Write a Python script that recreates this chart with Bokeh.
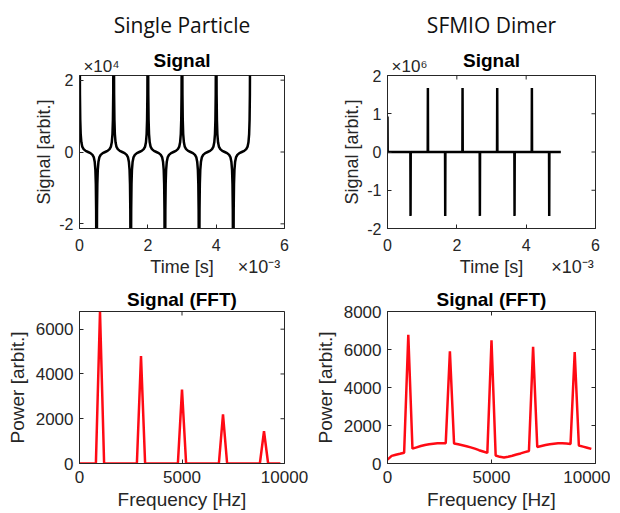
import math
from bokeh.plotting import figure
from bokeh.models import Range1d, LinearAxis, FixedTicker
from bokeh.layouts import row, column
from bokeh.embed import file_html
from bokeh.resources import INLINE

# ---------------- data ----------------
column_titles = ["Single Particle", "SFMIO Dimer"]
panel_titles = ["Signal", "Signal (FFT)"]
time_label = "Time [s]"
signal_label = "Signal [arbit.]"
freq_label = "Frequency [Hz]"
power_label = "Power [arbit.]"
time_multiplier = "×10⁻³"
sp_multiplier = "×10⁴"
dm_multiplier = "×10⁶"

# Single particle time signal (time in ms, signal in units of 1e4)
sp_time_ms = [
    0.000, 0.006, 0.013, 0.022, 0.035, 0.055, 0.080, 0.120, 0.180, 0.250, 0.320, 0.380, 0.420, 0.445, 0.465, 0.478, 0.487, 0.494,
    0.500, 0.506, 0.513, 0.522, 0.535, 0.555, 0.580, 0.620, 0.680, 0.750, 0.820, 0.880, 0.920, 0.945, 0.965, 0.978, 0.987, 0.994,
    1.000, 1.006, 1.013, 1.022, 1.035, 1.055, 1.080, 1.120, 1.180, 1.250, 1.320, 1.380, 1.420, 1.445, 1.465, 1.478, 1.487, 1.494,
    1.500, 1.506, 1.513, 1.522, 1.535, 1.555, 1.580, 1.620, 1.680, 1.750, 1.820, 1.880, 1.920, 1.945, 1.965, 1.978, 1.987, 1.994,
    2.000, 2.006, 2.013, 2.022, 2.035, 2.055, 2.080, 2.120, 2.180, 2.250, 2.320, 2.380, 2.420, 2.445, 2.465, 2.478, 2.487, 2.494,
    2.500, 2.506, 2.513, 2.522, 2.535, 2.555, 2.580, 2.620, 2.680, 2.750, 2.820, 2.880, 2.920, 2.945, 2.965, 2.978, 2.987, 2.994,
    3.000, 3.006, 3.013, 3.022, 3.035, 3.055, 3.080, 3.120, 3.180, 3.250, 3.320, 3.380, 3.420, 3.445, 3.465, 3.478, 3.487, 3.494,
    3.500, 3.506, 3.513, 3.522, 3.535, 3.555, 3.580, 3.620, 3.680, 3.750, 3.820, 3.880, 3.920, 3.945, 3.965, 3.978, 3.987, 3.994,
    4.000, 4.006, 4.013, 4.022, 4.035, 4.055, 4.080, 4.120, 4.180, 4.250, 4.320, 4.380, 4.420, 4.445, 4.465, 4.478, 4.487, 4.494,
    4.500, 4.506, 4.513, 4.522, 4.535, 4.555, 4.580, 4.620, 4.680, 4.750, 4.820, 4.880, 4.920, 4.945, 4.965, 4.978, 4.987, 4.994,
    5.000,
]
sp_signal_1e4 = [
    9.0, 3.5, 1.6, 0.9, 0.5, 0.27, 0.15, 0.08, 0.03, 0.0, -0.03, -0.08, -0.15, -0.27, -0.5, -0.9, -1.6, -3.5,
    -9.0, -3.5, -1.6, -0.9, -0.5, -0.27, -0.15, -0.08, -0.03, 0.0, 0.03, 0.08, 0.15, 0.27, 0.5, 0.9, 1.6, 3.5,
    9.0, 3.5, 1.6, 0.9, 0.5, 0.27, 0.15, 0.08, 0.03, 0.0, -0.03, -0.08, -0.15, -0.27, -0.5, -0.9, -1.6, -3.5,
    -9.0, -3.5, -1.6, -0.9, -0.5, -0.27, -0.15, -0.08, -0.03, 0.0, 0.03, 0.08, 0.15, 0.27, 0.5, 0.9, 1.6, 3.5,
    9.0, 3.5, 1.6, 0.9, 0.5, 0.27, 0.15, 0.08, 0.03, 0.0, -0.03, -0.08, -0.15, -0.27, -0.5, -0.9, -1.6, -3.5,
    -9.0, -3.5, -1.6, -0.9, -0.5, -0.27, -0.15, -0.08, -0.03, 0.0, 0.03, 0.08, 0.15, 0.27, 0.5, 0.9, 1.6, 3.5,
    9.0, 3.5, 1.6, 0.9, 0.5, 0.27, 0.15, 0.08, 0.03, 0.0, -0.03, -0.08, -0.15, -0.27, -0.5, -0.9, -1.6, -3.5,
    -9.0, -3.5, -1.6, -0.9, -0.5, -0.27, -0.15, -0.08, -0.03, 0.0, 0.03, 0.08, 0.15, 0.27, 0.5, 0.9, 1.6, 3.5,
    9.0, 3.5, 1.6, 0.9, 0.5, 0.27, 0.15, 0.08, 0.03, 0.0, -0.03, -0.08, -0.15, -0.27, -0.5, -0.9, -1.6, -3.5,
    -9.0, -3.5, -1.6, -0.9, -0.5, -0.27, -0.15, -0.08, -0.03, 0.0, 0.03, 0.08, 0.15, 0.27, 0.5, 0.9, 1.6, 3.5,
    9.0,
]

# SFMIO dimer time signal (time in ms, signal in units of 1e6)
dm_time_ms = [
    0.0, 0.005,
    0.66, 0.665, 0.67, 1.16, 1.165, 1.17,
    1.66, 1.665, 1.67, 2.16, 2.165, 2.17,
    2.66, 2.665, 2.67, 3.16, 3.165, 3.17,
    3.66, 3.665, 3.67, 4.16, 4.165, 4.17,
    4.66, 4.665, 4.67,
    5.0,
]
dm_signal_1e6 = [
    0.93, 0.0,
    0.0, -1.67, 0.0, 0.0, 1.67, 0.0,
    0.0, -1.67, 0.0, 0.0, 1.67, 0.0,
    0.0, -1.67, 0.0, 0.0, 1.67, 0.0,
    0.0, -1.67, 0.0, 0.0, 1.67, 0.0,
    0.0, -1.67, 0.0,
    0.0,
]

# FFT (frequency in Hz, power in arbit. units)
freq_hz = [
    0, 200, 400, 600, 800, 1000, 1200, 1400, 1600, 1800,
    2000, 2200, 2400, 2600, 2800, 3000, 3200, 3400, 3600, 3800,
    4000, 4200, 4400, 4600, 4800, 5000, 5200, 5400, 5600, 5800,
    6000, 6200, 6400, 6600, 6800, 7000, 7200, 7400, 7600, 7800,
    8000, 8200, 8400, 8600, 8800, 9000, 9200, 9400, 9600, 9800,
]
sp_power = [
    0, 0, 0, 0, 5, 6790, 8, 3, 3, 3,
    3, 3, 3, 3, 10, 4800, 12, 3, 3, 3,
    3, 3, 3, 3, 12, 3300, 12, 3, 3, 3,
    3, 3, 3, 3, 12, 2190, 12, 3, 3, 3,
    3, 3, 3, 3, 12, 1440, 12, 3, 3, 3,
]
dm_power = [
    200, 400, 460, 510, 570, 6780, 780, 850, 920, 970,
    1010, 1040, 1060, 1070, 1070, 5910, 1050, 1010, 960, 910,
    850, 780, 700, 630, 560, 6490, 420, 350, 320, 360,
    410, 470, 530, 600, 660, 6140, 870, 920, 970, 1010,
    1040, 1060, 1060, 1050, 1030, 5860, 950, 890, 830, 770,
]

# ticks
time_ticks = [0, 0.002, 0.004, 0.006]
time_tick_labels = ["0", "2", "4", "6"]
sp_sig_ticks = [-20000, 0, 20000]
sp_sig_tick_labels = ["-2", "0", "2"]
dm_sig_ticks = [-2e6, -1e6, 0, 1e6, 2e6]
dm_sig_tick_labels = ["-2", "-1", "0", "1", "2"]
freq_ticks = [0, 5000, 10000]
freq_tick_labels = ["0", "5000", "10000"]
sp_pow_ticks = [0, 2000, 4000, 6000]
sp_pow_tick_labels = ["0", "2000", "4000", "6000"]
dm_pow_ticks = [0, 2000, 4000, 6000, 8000]
dm_pow_tick_labels = ["0", "2000", "4000", "6000", "8000"]

# ---------------- styling ----------------
FONT = "Liberation Sans"
COL_FONT = "Open Sans"
AX = "#262626"


def style_axis(ax, ticks, labels, tick_size, label_size, tick_standoff, label_standoff):
    ax.ticker = FixedTicker(ticks=ticks)
    ax.major_label_overrides = {t: l for t, l in zip(ticks, labels)}
    ax.minor_tick_line_color = None
    ax.major_tick_in = 4
    ax.major_tick_out = 0
    ax.axis_line_color = AX
    ax.major_tick_line_color = AX
    ax.major_label_text_font = FONT
    ax.major_label_text_color = AX
    ax.major_label_text_font_size = tick_size
    ax.major_label_standoff = tick_standoff
    ax.axis_label_text_font = FONT
    ax.axis_label_text_color = AX
    ax.axis_label_text_font_style = "normal"
    ax.axis_label_text_font_size = label_size
    ax.axis_label_standoff = label_standoff


def text_axis(ticks, labels, size, standoff, color=AX):
    """An axis without line or tick marks, used only to place text."""
    ax = LinearAxis(ticker=FixedTicker(ticks=ticks),
                    major_label_overrides={t: l for t, l in zip(ticks, labels)})
    ax.axis_line_color = None
    ax.major_tick_line_color = None
    ax.minor_tick_line_color = None
    ax.major_tick_in = 0
    ax.major_tick_out = 0
    ax.major_label_standoff = standoff
    ax.major_label_text_font = FONT
    ax.major_label_text_font_size = size
    ax.major_label_text_color = color
    return ax


def make_panel(xr, yr, fw, fh, bl, br, bt, bb, xt, xtl, yt, ytl, ylabel,
               tick_size, label_size, x_tick_standoff, y_label_standoff):
    p = figure(x_range=Range1d(*xr), y_range=Range1d(*yr),
               frame_width=fw, frame_height=fh,
               min_border_left=bl, min_border_right=br,
               min_border_top=bt, min_border_bottom=bb,
               output_backend="svg", toolbar_location=None)
    p.xgrid.visible = False
    p.ygrid.visible = False
    p.outline_line_color = AX
    p.background_fill_color = "white"
    p.border_fill_color = "white"
    p.yaxis.axis_label = ylabel
    style_axis(p.xaxis[0], xt, xtl, tick_size, label_size, x_tick_standoff, 3)
    style_axis(p.yaxis[0], yt, ytl, tick_size, label_size, 6, y_label_standoff)
    # inward tick marks on the top and right edges of the box
    p.scatter(x=xt, y=[yr[1]] * len(xt), marker="dash", angle=math.pi / 2,
              size=8, line_color=AX, line_width=1)
    p.scatter(x=[xr[1]] * len(yt), y=yt, marker="dash",
              size=8, line_color=AX, line_width=1)
    return p


def set_title(p, text, font, size, style, color, standoff):
    p.title.text = text
    p.title.text_font = font
    p.title.text_font_size = size
    p.title.text_font_style = style
    p.title.text_color = color
    p.title.align = "center"
    p.title.standoff = standoff


def top_panel(yr, yt, ytl, fw, bl, br, multiplier, col_title, exp_right_px):
    xr = (0, 0.006)
    p = make_panel(xr, yr, fw, 153, bl, br, 73, 56, time_ticks, time_tick_labels,
                   yt, ytl, signal_label, "16px", "18px", 10, 2)
    # text above the box: multiplier (left) and panel title (centre) on one row
    px = (xr[1] - xr[0]) / fw
    x_mult = xr[0] + 22 * px
    above = text_axis([x_mult], [multiplier], "17px", 0)
    above.axis_label = panel_titles[0]
    above.axis_label_text_font = FONT
    above.axis_label_text_font_size = "19px"
    above.axis_label_text_font_style = "bold"
    above.axis_label_text_color = "black"
    above.axis_label_standoff = -17
    p.add_layout(above, "above")
    # second row below the box: axis label (centre) and time multiplier (right)
    x_mid = (xr[0] + xr[1]) / 2
    x_exp = xr[1] - exp_right_px * px
    below = text_axis([x_mid, x_exp], [time_label, time_multiplier], "18px", 3)
    p.add_layout(below, "below")
    set_title(p, col_title, COL_FONT, "21px", "normal", "#111111", 16)
    return p


def fft_panel(yr, yt, ytl, fw, bl, br):
    p = make_panel((0, 10000), yr, fw, 152, bl, br, 27, 51, freq_ticks, freq_tick_labels,
                   yt, ytl, power_label, "17px", "19px", 7, 5)
    p.xaxis.axis_label = freq_label
    set_title(p, panel_titles[1], FONT, "19px", "bold", "black", 3)
    return p


sp_t = [v * 1e-3 for v in sp_time_ms]
sp_s = [v * 1e4 for v in sp_signal_1e4]
dm_t = [v * 1e-3 for v in dm_time_ms]
dm_s = [v * 1e6 for v in dm_signal_1e6]

p1 = top_panel((-2.13e4, 2.13e4), sp_sig_ticks, sp_sig_tick_labels, 205, 79, 26,
               sp_multiplier, column_titles[0], 25.5)
p1.line(sp_t, sp_s, line_color="black", line_width=2.5)

p2 = top_panel((-2e6, 2e6), dm_sig_ticks, dm_sig_tick_labels, 208, 77, 15,
               dm_multiplier, column_titles[1], 23)
p2.line(dm_t, dm_s, line_color="black", line_width=2.5)

p3 = fft_panel((0, 6790), sp_pow_ticks, sp_pow_tick_labels, 205, 79, 26)
p3.line(freq_hz, sp_power, line_color="#ff0a14", line_width=2.5)

p4 = fft_panel((0, 8000), dm_pow_ticks, dm_pow_tick_labels, 208, 77, 15)
p4.line(freq_hz, dm_power, line_color="#ff0a14", line_width=2.5)

layout = column(row(p1, p2), row(p3, p4))
open("out.html", "w").write(file_html(layout, INLINE))
